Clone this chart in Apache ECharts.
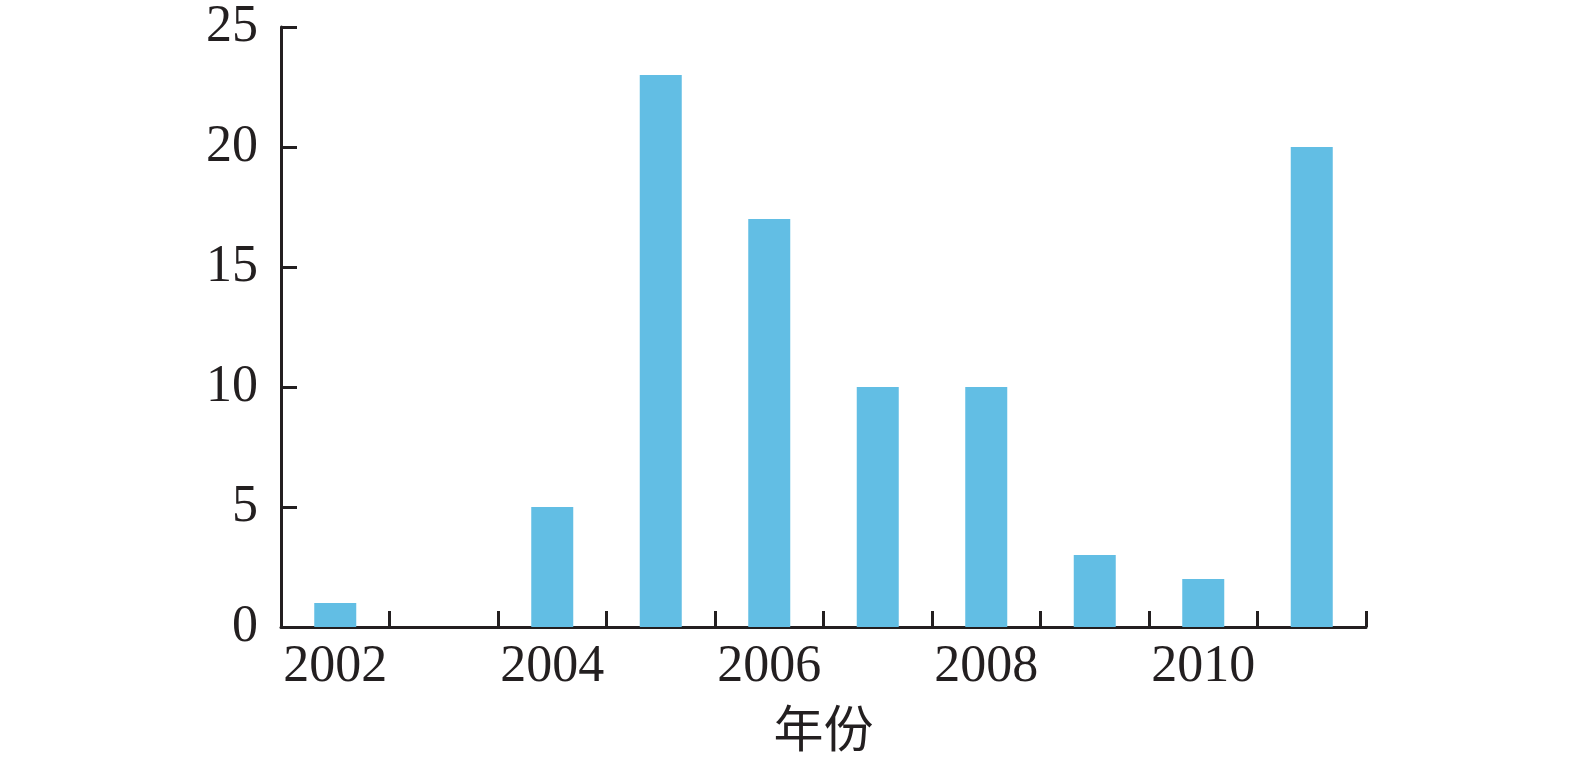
<!DOCTYPE html>
<html>
<head>
<meta charset="utf-8">
<script src="https://cdn.jsdelivr.net/npm/echarts@6/dist/echarts.min.js"></script>
<style>
  html, body { margin: 0; padding: 0; background: #fff; }
  #chart { width: 1575px; height: 758px; }
</style>
</head>
<body>
<div id="chart"></div>
<script>
  // 年份
  const years = ['2002', '2003', '2004', '2005', '2006', '2007', '2008', '2009', '2010', '2011'];
  // 数量
  const counts = [1, 0, 5, 23, 17, 10, 10, 3, 2, 20];

  const ink = '#231f20';
  const serif = '"Liberation Serif", "Times New Roman", serif';

  let myChart = echarts.init(document.getElementById('chart'));
  let option = {
    animation: false,
    grid: {
      left: 281,
      right: 209,
      top: 27,
      bottom: 131,
      containLabel: false
    },
    xAxis: {
      type: 'category',
      data: years,
      boundaryGap: true,
      name: '年份',
      nameLocation: 'middle',
      nameGap: 76,
      nameTextStyle: {
        fontFamily: '"Noto Sans CJK SC", sans-serif',
        fontSize: 50,
        color: ink
      },
      axisLine: { show: true, lineStyle: { color: ink, width: 3 } },
      axisTick: {
        show: true,
        inside: true,
        length: 16,
        interval: 0,
        lineStyle: { color: ink, width: 3 }
      },
      axisLabel: {
        interval: 1,
        margin: 14,
        fontFamily: serif,
        fontSize: 52,
        color: ink
      },
      splitLine: { show: false }
    },
    yAxis: {
      type: 'value',
      min: 0,
      max: 25,
      interval: 5,
      axisLine: { show: true, lineStyle: { color: ink, width: 3 } },
      axisTick: {
        show: true,
        inside: true,
        length: 16,
        lineStyle: { color: ink, width: 3 }
      },
      axisLabel: {
        margin: 23,
        fontFamily: serif,
        fontSize: 52,
        color: ink
      },
      splitLine: { show: false }
    },
    series: [
      {
        type: 'bar',
        data: counts,
        barWidth: 42,
        itemStyle: { color: '#62bee4' }
      }
    ]
  };
  myChart.setOption(option);
</script>
</body>
</html>
